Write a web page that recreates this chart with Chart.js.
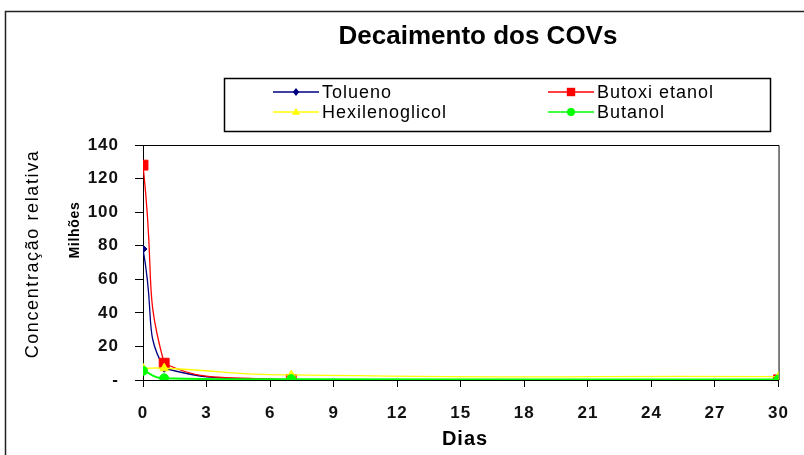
<!DOCTYPE html>
<html>
<head>
<meta charset="utf-8">
<script src="https://cdn.jsdelivr.net/npm/chart.js@4/dist/chart.umd.min.js"></script>
<style>
  html, body { margin: 0; padding: 0; background: #fff; }
  #wrap { position: relative; width: 804px; height: 455px; }
</style>
</head>
<body>
<div id="wrap"><canvas id="covchart"></canvas></div>
<script>
'use strict';

// dias de medição
var dias = [0, 1, 7, 30];

// concentração relativa (milhões)
var tolueno = [78, 7, 0.2, 0];
var butoxiEtanol = [128, 10, 0.3, 0.1];
var hexilenoglicol = [7, 7, 3, 2];
var butanol = [5.5, 1, 0.5, 0.3];

var seriesNames = ['Tolueno', 'Butoxi etanol', 'Hexilenoglicol', 'Butanol'];
var seriesColors = ['#000080', '#FF0000', '#FFFF00', '#00FF00'];
var seriesMarkers = ['rectRot', 'rect', 'triangle', 'circle'];
var markerSizes = [4, 7, 5, 4.5];

var xTicks = [0, 3, 6, 9, 12, 15, 18, 21, 24, 27, 30];
var yTicks = [0, 20, 40, 60, 80, 100, 120, 140];

var chartTitle = 'Decaimento dos COVs';
var xTitle = 'Dias';
var yTitle = 'Concentração relativa';
var unitLabel = 'Milhões';

var FONT = '"Liberation Sans", Arial, sans-serif';

function pts(vals) {
  return dias.map(function (d, i) { return { x: d, y: vals[i] }; });
}

var allValues = [tolueno, butoxiEtanol, hexilenoglicol, butanol];
var datasets = allValues.map(function (vals, i) {
  return {
    label: seriesNames[i],
    data: pts(vals),
    borderColor: seriesColors[i],
    backgroundColor: seriesColors[i],
    borderWidth: i === 3 ? 2 : 1.3,
    pointStyle: seriesMarkers[i],
    pointRadius: markerSizes[i],
    pointBorderWidth: 1,
    tension: 0.6,
    order: allValues.length - i, // as últimas séries ficam por cima
    fill: false
  };
});

function drawMarker(ctx, style, x, y, r, color) {
  ctx.save();
  ctx.fillStyle = color;
  ctx.beginPath();
  if (style === 'rect') {
    ctx.rect(x - r * 0.7, y - r * 0.7, r * 1.4, r * 1.4);
  } else if (style === 'rectRot') {
    ctx.moveTo(x, y - r); ctx.lineTo(x + r * 0.8, y); ctx.lineTo(x, y + r); ctx.lineTo(x - r * 0.8, y);
    ctx.closePath();
  } else if (style === 'triangle') {
    ctx.moveTo(x, y - r); ctx.lineTo(x + r, y + r * 0.7); ctx.lineTo(x - r, y + r * 0.7);
    ctx.closePath();
  } else {
    ctx.arc(x, y, r, 0, Math.PI * 2);
  }
  ctx.fill();
  ctx.restore();
}

var decor = {
  id: 'decor',
  beforeDraw: function (chart) {
    var ctx = chart.ctx;
    ctx.save();
    ctx.fillStyle = '#fff';
    ctx.fillRect(0, 0, chart.width, chart.height);
    ctx.strokeStyle = '#222';
    ctx.lineWidth = 1.5;
    ctx.strokeRect(5.5, 11.5, 900, 600);
    ctx.restore();
    ctx.letterSpacing = '1px';
  },
  beforeDatasetsDraw: function (chart) {
    var ctx = chart.ctx, a = chart.chartArea;
    ctx.save();
    ctx.strokeStyle = '#000';
    ctx.lineWidth = 1;
    ctx.beginPath();
    ctx.moveTo(a.left, a.top + 0.5);
    ctx.lineTo(a.right + 0.5, a.top + 0.5);
    ctx.lineTo(a.right + 0.5, a.bottom);
    ctx.stroke();
    ctx.restore();
  },
  afterDraw: function (chart) {
    var ctx = chart.ctx;
    ctx.save();
    ctx.fillStyle = '#000';
    ctx.textBaseline = 'middle';

    // título
    ctx.letterSpacing = '0px';
    ctx.font = 'bold 26px ' + FONT;
    ctx.textAlign = 'center';
    ctx.fillText(chartTitle, 478, 37);

    // título do eixo x
    ctx.letterSpacing = '1px';
    ctx.font = 'bold 20px ' + FONT;
    ctx.fillText(xTitle, 465, 439);

    // títulos do eixo y
    ctx.save();
    ctx.translate(33, 254);
    ctx.rotate(-Math.PI / 2);
    ctx.letterSpacing = '1.6px';
    ctx.font = '18px ' + FONT;
    ctx.fillText(yTitle, 0, 0);
    ctx.restore();

    ctx.save();
    ctx.translate(75, 230);
    ctx.rotate(-Math.PI / 2);
    ctx.letterSpacing = '0.7px';
    ctx.font = 'bold 14px ' + FONT;
    ctx.fillText(unitLabel, 0, 0);
    ctx.restore();

    // legenda
    ctx.strokeStyle = '#000';
    ctx.lineWidth = 1.5;
    ctx.strokeRect(224.5, 78.5, 546, 53);
    var colX = [273, 548];
    var rowY = [92, 112];
    ctx.textAlign = 'left';
    ctx.letterSpacing = '1px';
    ctx.font = '18px ' + FONT;
    chart.data.datasets.forEach(function (ds, i) {
      var x = colX[i % 2], y = rowY[Math.floor(i / 2)];
      ctx.strokeStyle = ds.borderColor;
      ctx.lineWidth = 1.5;
      ctx.beginPath();
      ctx.moveTo(x, y);
      ctx.lineTo(x + 46, y);
      ctx.stroke();
      drawMarker(ctx, ds.pointStyle, x + 23, y, ds.pointStyle === 'rect' ? 6 : 4, ds.borderColor);
      ctx.fillStyle = '#000';
      ctx.fillText(ds.label, x + 49, y + 1);
    });
    ctx.restore();
  }
};

new Chart(document.getElementById('covchart'), {
  type: 'line',
  data: { datasets: datasets },
  plugins: [decor],
  options: {
    responsive: true,
    maintainAspectRatio: false,
    animation: false,
    layout: { padding: { top: 145, right: 18, left: 0, bottom: 0 } },
    plugins: {
      legend: { display: false },
      title: { display: false },
      tooltip: { enabled: false }
    },
    scales: {
      x: {
        type: 'linear',
        min: 0,
        max: 30,
        afterBuildTicks: function (s) { s.ticks = xTicks.map(function (v) { return { value: v }; }); },
        afterFit: function (s) { s.height = 75; },
        grid: { display: true, drawOnChartArea: false, drawTicks: true, tickLength: 7, color: '#000' },
        border: { display: true, color: '#000', width: 1 },
        ticks: {
          color: '#111',
          padding: 16,
          maxRotation: 0,
          font: { family: FONT, size: 17, weight: 'bold' }
        }
      },
      y: {
        min: 0,
        max: 140,
        afterBuildTicks: function (s) { s.ticks = yTicks.map(function (v) { return { value: v }; }); },
        afterFit: function (s) { s.width = 143; },
        grid: { display: true, drawOnChartArea: false, drawTicks: true, tickLength: 8, color: '#000' },
        border: { display: true, color: '#000', width: 1 },
        ticks: {
          color: '#111',
          padding: 16,
          font: { family: FONT, size: 17, weight: 'bold' },
          callback: function (v) { return v === 0 ? '-' : v; }
        }
      }
    }
  }
});
</script>
</body>
</html>
